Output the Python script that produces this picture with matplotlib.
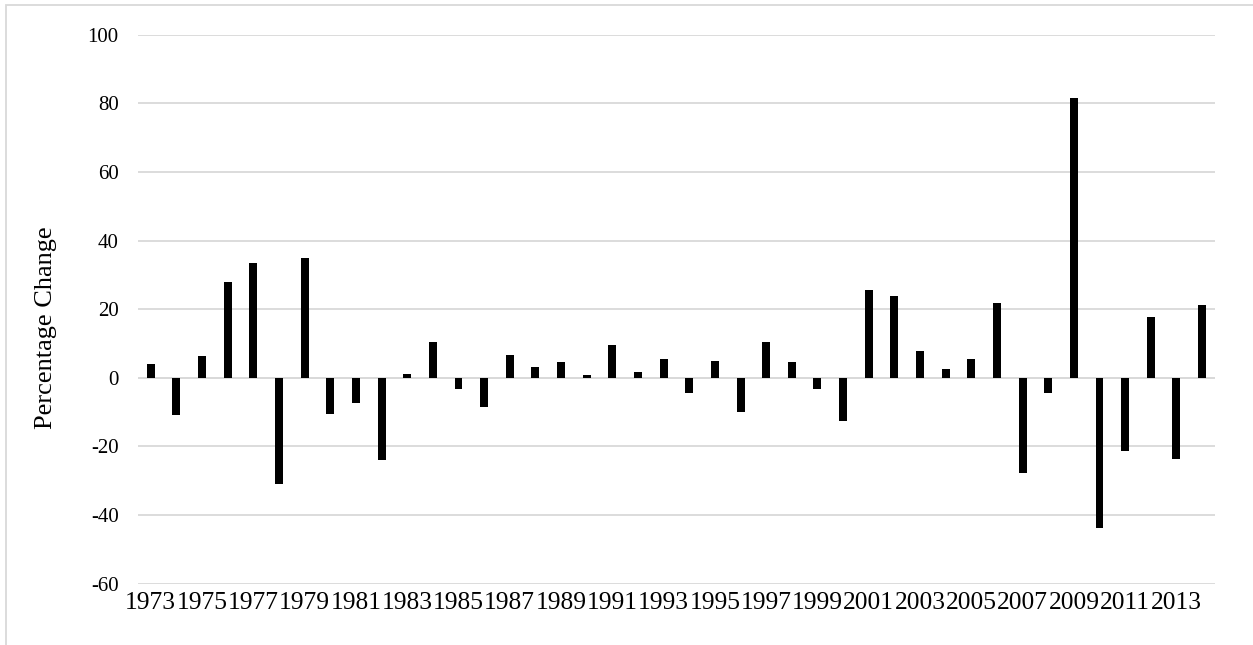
import matplotlib
matplotlib.use("Agg")
import matplotlib.pyplot as plt
from matplotlib.patches import Rectangle

# yearly percentage change, 1973-2014
years = list(range(1973, 2015))
pct_change = [
    3.9, -10.9, 6.4, 27.8, 33.4, -31.1, 34.8, -10.5, -7.5, -23.9,
    1.0, 10.5, -3.2, -8.6, 6.6, 3.0, 4.5, 0.7, 9.4, 1.8,
    5.6, -4.5, 4.8, -10.1, 10.5, 4.5, -3.4, -12.7, 25.5, 23.8,
    7.7, 2.4, 5.4, 21.9, -27.7, -4.5, 81.6, -43.9, -21.3, 17.8,
    -23.6, 21.3,
]
y_ticks = [-60, -40, -20, 0, 20, 40, 60, 80, 100]

GRID = "#d9d9d9"
plt.rcParams["font.family"] = ["Liberation Serif", "DejaVu Serif"]

fig = plt.figure(figsize=(12.53, 6.45), dpi=100)
ax = fig.add_axes([0.1101, 0.0953, 0.8595, 0.8509])

x = list(range(len(years)))
ax.bar(x, pct_change, width=0.31, color="black", zorder=3)

ax.set_xlim(-0.5, len(years) - 0.5)
ax.set_ylim(-60, 100)
ax.set_yticks(y_ticks)
ax.set_yticklabels([str(v) for v in y_ticks])
ax.set_xticks(x[::2])
ax.set_xticklabels([str(y) for y in years[::2]])
ax.tick_params(axis="both", length=0, colors="#000000")
ax.tick_params(axis="x", labelsize=18.4, pad=6)
ax.tick_params(axis="y", labelsize=15, pad=14)

ax.grid(axis="y", color=GRID, linewidth=1.3, zorder=0)
ax.axhline(0, color=GRID, linewidth=1.3, zorder=2)
for s in ax.spines.values():
    s.set_visible(False)

ax.set_ylabel("Percentage Change", fontsize=19)
ax.yaxis.set_label_coords(-0.075, 0.466)

# light chart-area border along the top and left
fig.patches.append(Rectangle((0.0048, -0.1), 1.1, 1.0923, transform=fig.transFigure,
                             fill=False, edgecolor=GRID, linewidth=1.3))

fig.savefig("out.png", dpi=100, facecolor="white")
